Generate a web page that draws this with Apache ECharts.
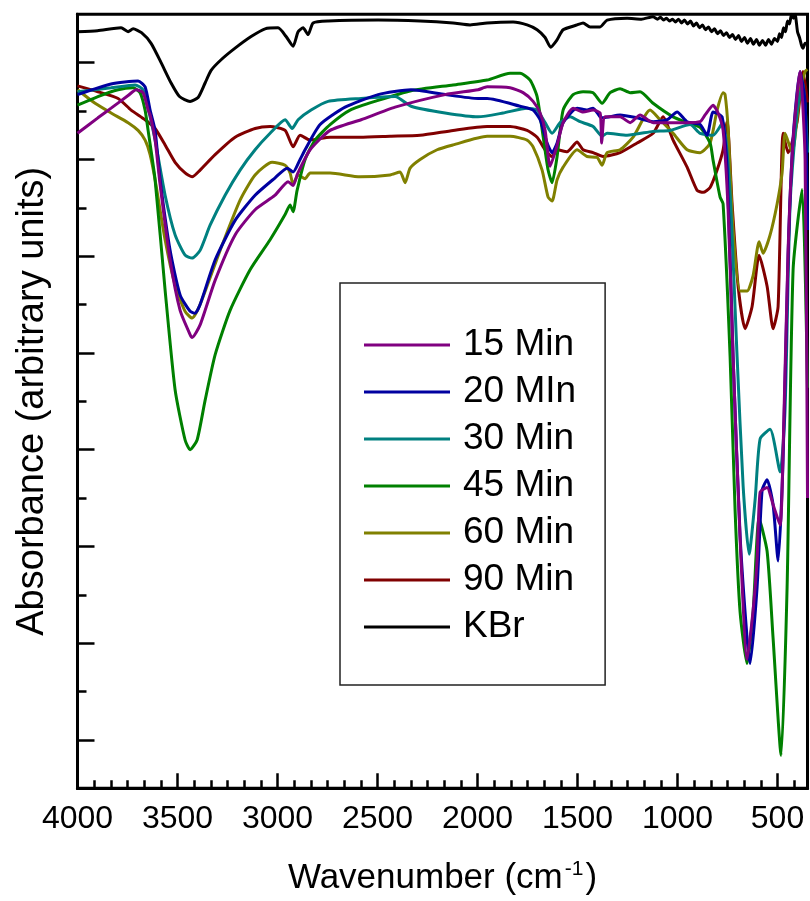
<!DOCTYPE html>
<html>
<head>
<meta charset="utf-8">
<script src="https://cdn.jsdelivr.net/npm/echarts@6/dist/echarts.min.js"></script>
<style>
html,body{margin:0;padding:0;background:#fff;}
#chart{width:810px;height:901px;}
</style>
</head>
<body>
<div id="chart"></div>
<script>
// ---- data: [wavenumber (cm-1), absorbance (arbitrary units)] ----
const names = ['15 Min', '20 MIn', '30 Min', '45 Min', '60 Min', '90 Min', 'KBr'];
const colors = ['#800080', '#0000A0', '#008080', '#008000', '#808000', '#800000', '#000000'];

const min15 = [[4000,6.77],[3898,6.93],[3832,7.03],[3747,7.16],[3707,7.22],[3672,7.19],[3647,7.01],[3637,6.96],[3612,6.70],[3587,6.24],[3537,5.46],[3487,4.94],[3437,4.69],[3427,4.66],[3387,4.79],[3312,5.25],[3212,5.72],[3112,5.98],[3012,6.13],[2947,6.27],[2922,6.23],[2900,6.35],[2837,6.60],[2737,6.80],[2582,6.91],[2412,7.04],[2162,7.17],[1997,7.22],[1952,7.25],[1837,7.24],[1772,7.19],[1722,7.10],[1687,6.98],[1662,6.80],[1637,6.43],[1604,6.63],[1572,6.88],[1522,7.03],[1472,6.99],[1422,7.01],[1387,6.98],[1379,6.67],[1362,6.94],[1287,6.94],[1237,6.88],[1187,6.96],[1122,6.88],[1037,6.88],[952,6.88],[887,6.89],[862,6.96],[822,7.06],[797,6.98],[772,6.80],[747,5.98],[722,4.46],[687,2.57],[652,1.33],[622,1.84],[602,2.36],[587,3.06],[552,3.11],[522,2.93],[487,2.72],[472,3.50],[447,5.56],[422,6.70],[387,7.41],[362,6.50],[350,3.00]];

const min20 = [[4000,7.17],[3832,7.28],[3697,7.31],[3662,7.25],[3637,7.01],[3612,6.80],[3587,6.29],[3537,5.56],[3487,5.10],[3437,4.93],[3412,4.91],[3387,5.00],[3312,5.46],[3212,5.87],[3112,6.13],[3012,6.31],[2952,6.41],[2922,6.37],[2887,6.50],[2862,6.60],[2787,6.86],[2662,7.04],[2497,7.17],[2332,7.22],[2162,7.17],[1997,7.13],[1952,7.13],[1787,7.05],[1722,7.01],[1687,6.91],[1652,6.67],[1627,6.57],[1602,6.67],[1572,6.88],[1502,7.03],[1452,7.01],[1422,7.03],[1387,6.94],[1372,6.93],[1287,6.96],[1202,6.93],[1122,6.89],[1052,6.91],[1002,6.99],[952,6.89],[887,6.86],[852,6.75],[822,6.99],[777,6.94],[752,6.41],[722,4.46],[687,2.61],[652,1.55],[637,1.29],[602,2.08],[577,3.08],[552,3.19],[522,2.93],[497,2.35],[472,3.40],[447,5.51],[422,6.72],[387,7.41],[362,7.09],[350,5.77]];

const min30 = [[4000,7.20],[3832,7.24],[3712,7.27],[3672,7.22],[3637,6.94],[3612,6.70],[3562,6.13],[3512,5.72],[3462,5.51],[3427,5.48],[3387,5.56],[3337,5.82],[3262,6.13],[3187,6.39],[3112,6.60],[3037,6.77],[2962,6.91],[2927,6.82],[2897,6.91],[2832,7.01],[2747,7.10],[2582,7.13],[2412,7.15],[2332,7.05],[2162,6.98],[1997,6.94],[1872,6.98],[1752,7.03],[1702,7.01],[1662,6.88],[1627,6.77],[1587,6.88],[1537,6.94],[1487,6.89],[1422,6.84],[1377,6.74],[1352,6.77],[1252,6.75],[1122,6.79],[1037,6.80],[937,6.86],[887,6.77],[822,6.75],[772,6.89],[737,6.14],[702,4.46],[672,3.13],[642,2.42],[612,2.98],[587,3.61],[537,3.71],[487,3.27],[462,3.93],[437,6.04],[402,6.99],[372,7.30],[350,6.57]];

const min45 = [[4000,7.06],[3898,7.15],[3797,7.22],[3722,7.24],[3687,7.19],[3662,7.01],[3647,6.80],[3612,6.29],[3562,5.15],[3512,4.12],[3462,3.60],[3437,3.50],[3402,3.60],[3362,4.01],[3312,4.48],[3237,4.94],[3137,5.36],[3037,5.67],[2962,5.93],[2937,6.03],[2922,5.96],[2902,6.18],[2862,6.50],[2812,6.70],[2737,6.86],[2637,7.01],[2497,7.11],[2332,7.21],[2122,7.27],[1952,7.32],[1837,7.39],[1787,7.39],[1737,7.32],[1702,7.15],[1672,6.74],[1647,6.39],[1627,6.26],[1602,6.53],[1572,7.01],[1522,7.17],[1472,7.20],[1422,7.19],[1377,7.08],[1337,7.19],[1287,7.23],[1237,7.19],[1187,7.20],[1122,7.08],[1022,6.94],[952,6.88],[887,6.83],[837,6.67],[822,6.49],[787,6.11],[772,6.04],[737,4.46],[712,2.87],[687,1.82],[652,1.29],[622,1.82],[592,2.79],[552,2.45],[522,1.55],[482,0.34],[452,2.08],[422,5.36],[377,6.19],[350,4.14]];

const min60 = [[4000,7.22],[3912,7.08],[3832,6.98],[3747,6.88],[3697,6.80],[3662,6.70],[3637,6.55],[3612,6.29],[3562,5.67],[3512,5.20],[3462,4.93],[3427,4.86],[3387,5.00],[3287,5.56],[3187,6.08],[3112,6.34],[3027,6.47],[2962,6.44],[2937,6.36],[2922,6.24],[2897,6.34],[2862,6.30],[2837,6.36],[2737,6.36],[2587,6.32],[2437,6.34],[2387,6.37],[2362,6.26],[2337,6.41],[2287,6.50],[2202,6.60],[2122,6.65],[1952,6.74],[1837,6.74],[1752,6.70],[1722,6.63],[1677,6.39],[1647,6.11],[1627,6.07],[1602,6.29],[1572,6.42],[1502,6.60],[1452,6.53],[1402,6.52],[1377,6.44],[1352,6.57],[1287,6.60],[1222,6.73],[1137,7.01],[1087,6.91],[1022,6.77],[952,6.60],[887,6.57],[837,6.67],[802,7.01],[772,7.19],[762,7.17],[747,6.82],[722,5.77],[687,5.14],[652,5.14],[622,5.30],[592,5.65],[572,5.53],[537,5.72],[502,6.04],[477,6.36],[462,6.77],[427,6.57],[387,7.20],[362,7.41],[350,7.43]];

const min90 = [[4000,7.26],[3898,7.20],[3797,7.13],[3732,7.01],[3662,6.91],[3612,6.82],[3562,6.65],[3512,6.47],[3462,6.36],[3427,6.32],[3387,6.39],[3312,6.55],[3212,6.73],[3112,6.82],[3037,6.84],[2962,6.80],[2922,6.63],[2887,6.75],[2837,6.70],[2737,6.73],[2587,6.73],[2437,6.74],[2287,6.75],[2122,6.80],[1952,6.84],[1837,6.84],[1752,6.80],[1702,6.73],[1662,6.60],[1627,6.53],[1602,6.60],[1552,6.58],[1502,6.68],[1472,6.60],[1422,6.57],[1372,6.53],[1287,6.57],[1202,6.67],[1122,6.77],[1072,6.94],[1022,6.70],[952,6.42],[902,6.18],[872,6.16],[837,6.21],[802,6.39],[772,6.60],[752,6.89],[727,6.04],[697,5.19],[662,4.75],[627,4.98],[592,5.51],[552,5.19],[522,4.75],[497,4.98],[472,6.77],[447,6.57],[402,6.89],[372,7.41],[350,7.09]];

const kbr = [[4000,7.82],[3900,7.83],[3782,7.86],[3747,7.82],[3722,7.85],[3680,7.81],[3632,7.70],[3582,7.50],[3532,7.29],[3490,7.15],[3437,7.10],[3397,7.14],[3362,7.29],[3332,7.42],[3282,7.53],[3212,7.65],[3132,7.77],[3062,7.85],[2997,7.86],[2957,7.77],[2922,7.67],[2897,7.82],[2872,7.86],[2847,7.79],[2822,7.91],[2747,7.93],[2497,7.94],[2287,7.93],[2122,7.91],[2037,7.89],[1952,7.91],[1822,7.92],[1752,7.89],[1702,7.84],[1662,7.76],[1634,7.66],[1604,7.73],[1572,7.84],[1502,7.89],[1472,7.91],[1437,7.87],[1387,7.87],[1352,7.94],[1252,7.96],[1180,7.95],[1122,7.975],[1100,7.95],[1085,7.97],[1070,7.94],[1055,7.96],[1040,7.93],[1025,7.95],[1010,7.92],[995,7.95],[980,7.91],[965,7.94],[950,7.90],[935,7.93],[920,7.88],[905,7.91],[890,7.86],[875,7.89],[860,7.84],[845,7.87],[830,7.82],[815,7.85],[800,7.80],[785,7.83],[770,7.78],[755,7.81],[740,7.76],[725,7.79],[710,7.74],[695,7.78],[680,7.72],[665,7.76],[650,7.70],[635,7.75],[620,7.69],[605,7.74],[590,7.68],[575,7.73],[560,7.68],[545,7.74],[530,7.69],[515,7.75],[500,7.72],[490,7.80],[480,7.76],[470,7.86],[460,7.82],[450,7.93],[440,7.90],[430,8.0],[420,7.96],[412,8.0],[400,7.82],[390,7.76],[380,7.68],[372,7.65],[362,7.70],[350,7.69]];

const seriesData = [min15, min20, min30, min45, min60, min90, kbr];

// ---- axis ticks ----
const xMajor = [4000, 3500, 3000, 2500, 2000, 1500, 1000, 500];
const yMajor = [0.5, 1.5, 2.5, 3.5, 4.5, 5.5, 6.5, 7.5];
const yMinor = [1, 2, 3, 4, 5, 6, 7];
const xMinorPerMajor = 6;

const xMinor = [];
for (let k = 1; 4000 - k * 500 / xMinorPerMajor > 350; k++) {
  if (k % xMinorPerMajor !== 0) xMinor.push(4000 - k * 500 / xMinorPerMajor);
}

const FONT = "'Liberation Sans', Arial, Helvetica, sans-serif";
const chart = echarts.init(document.getElementById('chart'), null, {renderer: 'canvas'});

const baseX = {type: 'value', min: 350, max: 4000, inverse: true, position: 'bottom', splitLine: {show: false}};
const baseY = {type: 'value', min: 0, max: 8, position: 'left', splitLine: {show: false}};

chart.setOption({
  animation: false,
  backgroundColor: '#fff',
  grid: {left: 77.5, right: 2.5, top: 14.3, bottom: 112.7, show: true, borderColor: '#000', borderWidth: 3, containLabel: false},
  legend: {
    orient: 'vertical', left: 340, top: 283,
    padding: [42, 29, 38, 24],
    itemGap: 7, itemWidth: 86, itemHeight: 3, icon: 'rect',
    borderColor: '#222', borderWidth: 1.5,
    textStyle: {fontSize: 37, color: '#000', fontFamily: FONT, lineHeight: 40, padding: [0, 0, 0, 8]},
    data: names
  },
  xAxis: [
    Object.assign({}, baseX, {
      axisLine: {show: true, onZero: false, lineStyle: {color: '#000', width: 3}},
      axisTick: {show: true, inside: true, length: 15, customValues: xMajor, lineStyle: {color: '#000', width: 2.5}},
      axisLabel: {show: true, customValues: xMajor, formatter: v => String(v), fontSize: 32, color: '#000', fontFamily: FONT, margin: 15},
      name: '{a|Wavenumber (cm}{sup|-1}{a|)}',
      nameLocation: 'middle', nameGap: 70,
      nameTextStyle: {color: '#000', fontFamily: FONT, fontSize: 35,
        rich: {a: {fontSize: 35, fontFamily: FONT, color: '#000', lineHeight: 40},
               sup: {fontSize: 21, fontFamily: FONT, color: '#000', verticalAlign: 'top', lineHeight: 40, padding: [0, 2, 14, 2]}}}
    }),
    Object.assign({}, baseX, {
      axisLine: {show: false},
      axisTick: {show: true, inside: true, length: 8, customValues: xMinor, lineStyle: {color: '#000', width: 2.5}},
      axisLabel: {show: false}
    })
  ],
  yAxis: [
    Object.assign({}, baseY, {
      axisLine: {show: true, onZero: false, lineStyle: {color: '#000', width: 3}},
      axisTick: {show: true, inside: true, length: 17, customValues: yMajor, lineStyle: {color: '#000', width: 2.5}},
      axisLabel: {show: false},
      name: 'Absorbance (arbitrary units)',
      nameLocation: 'middle', nameGap: 26, nameRotate: 90,
      nameTextStyle: {color: '#000', fontFamily: FONT, fontSize: 38}
    }),
    Object.assign({}, baseY, {
      axisLine: {show: false},
      axisTick: {show: true, inside: true, length: 9, customValues: yMinor, lineStyle: {color: '#000', width: 2.5}},
      axisLabel: {show: false}
    })
  ],
  series: seriesData.map((d, i) => ({
    name: names[i], type: 'line', data: d, xAxisIndex: 0, yAxisIndex: 0,
    showSymbol: false, symbol: 'none', smooth: 0.2,
    lineStyle: {color: colors[i], width: 3}, itemStyle: {color: colors[i]},
    clip: true, z: 2 + (6 - i)
  }))
});
</script>
</body>
</html>
